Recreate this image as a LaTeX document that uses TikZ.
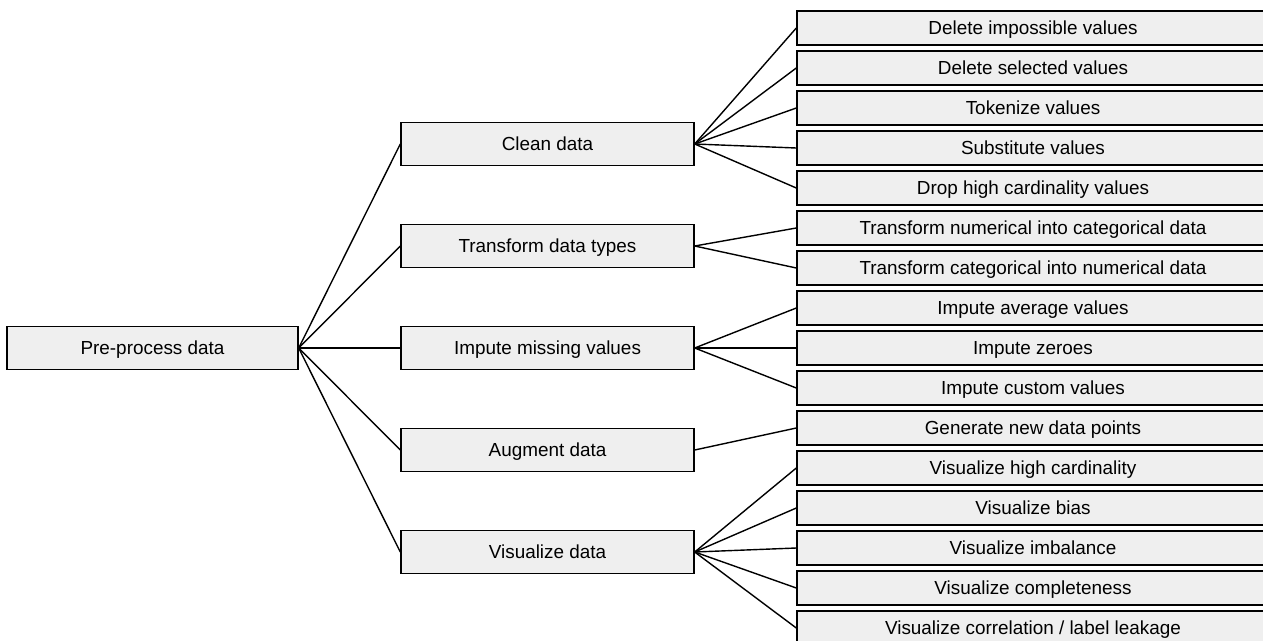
\documentclass[tikz,border=0pt]{standalone}
\usepackage{fontspec}
\setmainfont{Liberation Sans}
\usepackage{tikz}

\definecolor{boxgray}{HTML}{EFEFEF}
\tikzset{
  box/.style={draw=black, fill=boxgray, line width=1.4pt, inner sep=0pt,
    text height=13.5pt, text depth=0pt,
    font=\fontsize{18.9}{22}\selectfont},
  rootbox/.style={box, minimum width=291pt, minimum height=43pt},
  midbox/.style={box, minimum width=293pt, minimum height=43pt},
  leafbox/.style={box, minimum width=472pt, minimum height=34pt},
  link/.style={line width=1.4pt}
}

\begin{document}
\begin{tikzpicture}[x=1pt,y=-1pt]
        \useasboundingbox (0,0) rectangle (1263,640);
        \clip (0,0) rectangle (1263,640);
        \node[rootbox] (pre) at (152.5,348) {Pre-process data};
        \node[midbox] (clean) at (547.5,144) {Clean data};
        \node[midbox] (trans) at (547.5,246) {Transform data types};
        \node[midbox] (imp) at (547.5,348) {Impute missing values};
        \node[midbox] (aug) at (547.5,450) {Augment data};
        \node[midbox] (vis) at (547.5,552) {Visualize data};
        \node[leafbox] (c1) at (1033,28) {Delete impossible values};
        \node[leafbox] (c2) at (1033,68) {Delete selected values};
        \node[leafbox] (c3) at (1033,108) {Tokenize values};
        \node[leafbox] (c4) at (1033,148) {Substitute values};
        \node[leafbox] (c5) at (1033,188) {Drop high cardinality values};
        \node[leafbox] (t1) at (1033,228) {Transform numerical into categorical data};
        \node[leafbox] (t2) at (1033,268) {Transform categorical into numerical data};
        \node[leafbox] (i1) at (1033,308) {Impute average values};
        \node[leafbox] (i2) at (1033,348) {Impute zeroes};
        \node[leafbox] (i3) at (1033,388) {Impute custom values};
        \node[leafbox] (a1) at (1033,428) {Generate new data points};
        \node[leafbox] (v1) at (1033,468) {Visualize high cardinality};
        \node[leafbox] (v2) at (1033,508) {Visualize bias};
        \node[leafbox] (v3) at (1033,548) {Visualize imbalance};
        \node[leafbox] (v4) at (1033,588) {Visualize completeness};
        \node[leafbox] (v5) at (1033,628) {Visualize correlation / label leakage};
        \draw[link] (pre.east) -- (clean.west);
        \draw[link] (pre.east) -- (trans.west);
        \draw[link] (pre.east) -- (imp.west);
        \draw[link] (pre.east) -- (aug.west);
        \draw[link] (pre.east) -- (vis.west);
        \draw[link] (clean.east) -- (c1.west);
        \draw[link] (clean.east) -- (c2.west);
        \draw[link] (clean.east) -- (c3.west);
        \draw[link] (clean.east) -- (c4.west);
        \draw[link] (clean.east) -- (c5.west);
        \draw[link] (trans.east) -- (t1.west);
        \draw[link] (trans.east) -- (t2.west);
        \draw[link] (imp.east) -- (i1.west);
        \draw[link] (imp.east) -- (i2.west);
        \draw[link] (imp.east) -- (i3.west);
        \draw[link] (aug.east) -- (a1.west);
        \draw[link] (vis.east) -- (v1.west);
        \draw[link] (vis.east) -- (v2.west);
        \draw[link] (vis.east) -- (v3.west);
        \draw[link] (vis.east) -- (v4.west);
        \draw[link] (vis.east) -- (v5.west);
    \end{tikzpicture}
\end{document}
